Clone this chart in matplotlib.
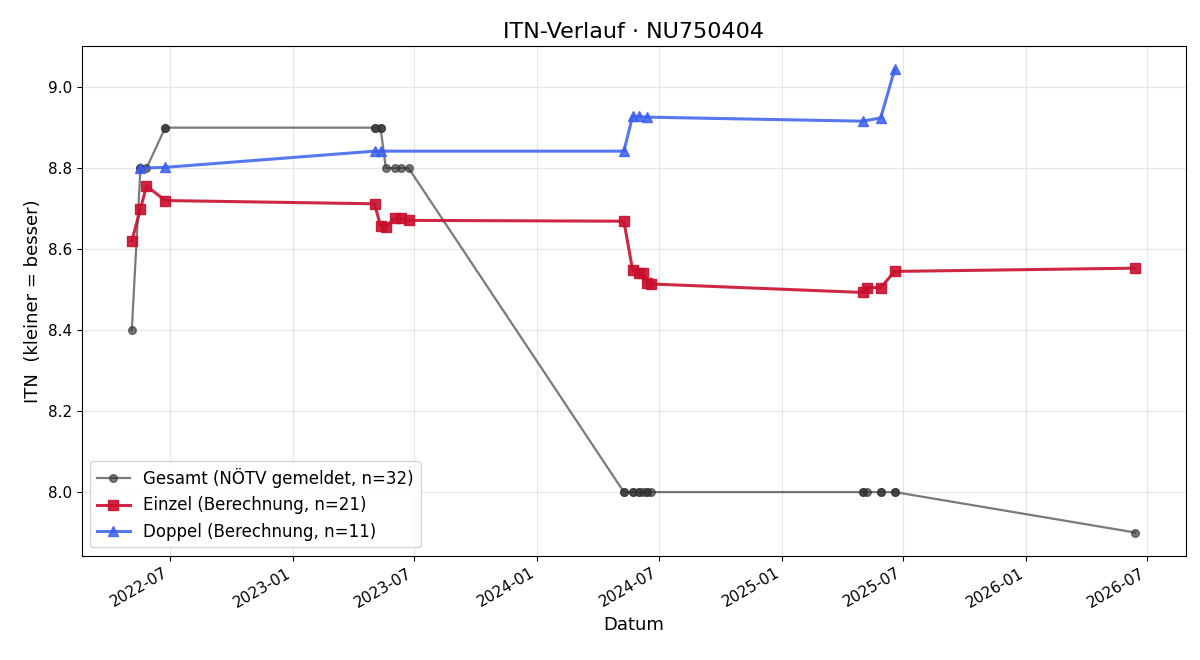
import matplotlib
matplotlib.use("Agg")
import matplotlib.pyplot as plt
import matplotlib.dates as mdates
import pandas as pd

gesamt_dates = ["2022-05-05", "2022-05-18", "2022-05-18", "2022-05-27", "2022-06-24", "2022-06-24",
                "2023-05-03", "2023-05-03", "2023-05-12", "2023-05-12", "2023-05-20", "2023-06-02",
                "2023-06-11", "2023-06-23",
                "2024-05-10", "2024-05-10", "2024-05-23", "2024-05-23", "2024-06-01", "2024-06-01",
                "2024-06-07", "2024-06-13", "2024-06-13", "2024-06-19",
                "2025-05-02", "2025-05-02", "2025-05-08", "2025-05-29", "2025-05-29", "2025-06-19",
                "2025-06-19", "2026-06-14"]
gesamt_vals = [8.4, 8.8, 8.8, 8.8, 8.9, 8.9,
               8.9, 8.9, 8.9, 8.9, 8.8, 8.8,
               8.8, 8.8,
               8.0, 8.0, 8.0, 8.0, 8.0, 8.0,
               8.0, 8.0, 8.0, 8.0,
               8.0, 8.0, 8.0, 8.0, 8.0, 8.0,
               8.0, 7.9]

einzel_dates = ["2022-05-05", "2022-05-18", "2022-05-27", "2022-06-24",
                "2023-05-03", "2023-05-12", "2023-05-20", "2023-06-02", "2023-06-11", "2023-06-23",
                "2024-05-10", "2024-05-23", "2024-06-01", "2024-06-07", "2024-06-13", "2024-06-19",
                "2025-05-02", "2025-05-08", "2025-05-29", "2025-06-19", "2026-06-14"]
einzel_vals = [8.620, 8.700, 8.756, 8.720,
               8.712, 8.658, 8.654, 8.676, 8.676, 8.671,
               8.669, 8.548, 8.541, 8.541, 8.517, 8.514,
               8.493, 8.505, 8.505, 8.545, 8.553]

doppel_dates = ["2022-05-18", "2022-06-24", "2023-05-03", "2023-05-12",
                "2024-05-10", "2024-05-23", "2024-06-01", "2024-06-13",
                "2025-05-02", "2025-05-29", "2025-06-19"]
doppel_vals = [8.800, 8.802, 8.842, 8.842,
               8.842, 8.928, 8.928, 8.926,
               8.916, 8.924, 9.044]

fig, ax = plt.subplots(figsize=(12, 6.6), dpi=100)

ax.plot(pd.to_datetime(gesamt_dates), gesamt_vals, color="#333333", alpha=0.65,
        marker="o", markersize=5.5, linewidth=1.6, label="Gesamt (NÖTV gemeldet, n=32)")
ax.plot(pd.to_datetime(einzel_dates), einzel_vals, color="#c8102e", alpha=0.9,
        marker="s", markersize=7, linewidth=2.2, label="Einzel (Berechnung, n=21)")
ax.plot(pd.to_datetime(doppel_dates), doppel_vals, color="#3a5fef", alpha=0.85,
        marker="^", markersize=7, linewidth=2.2, label="Doppel (Berechnung, n=11)")

ax.set_title("ITN-Verlauf · NU750404", fontsize=16)
ax.set_xlabel("Datum", fontsize=13)
ax.set_ylabel("ITN  (kleiner = besser)", fontsize=13)
ax.grid(True, alpha=0.3)
ax.xaxis.set_major_locator(mdates.MonthLocator(bymonth=[1, 7]))
ax.xaxis.set_major_formatter(mdates.DateFormatter("%Y-%m"))
ax.tick_params(labelsize=11)
ax.legend(loc="lower left", fontsize=12)
fig.autofmt_xdate()
fig.subplots_adjust(left=0.068, right=0.988, top=0.93, bottom=0.158)
fig.savefig("out.png")
